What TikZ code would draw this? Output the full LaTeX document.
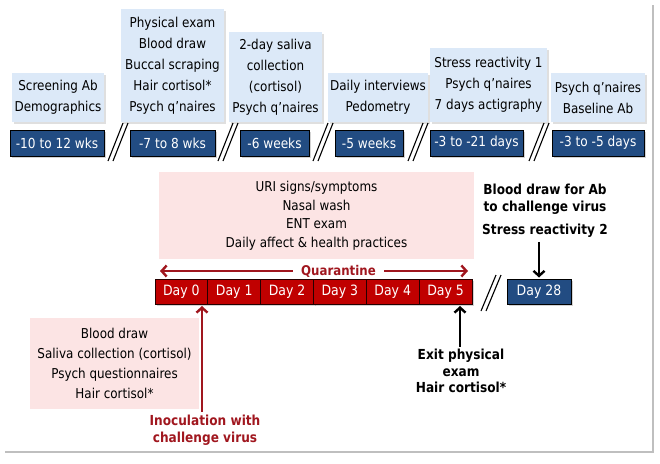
\documentclass[tikz,border=0pt]{standalone}
\usepackage{fontspec}
\setmainfont{DejaVu Sans}[FakeStretch=0.88]
\usetikzlibrary{arrows.meta,shadows,calc}
\definecolor{lblue}{RGB}{220,233,248}
\definecolor{dblue}{RGB}{34,76,130}
\definecolor{dred}{RGB}{192,0,0}
\definecolor{qred}{RGB}{160,22,30}
\definecolor{lpink}{RGB}{252,228,228}
\tikzset{
  tbox/.style={rectangle, fill=lblue, inner sep=0pt, align=center,
    font=\fontsize{13.6}{21}\selectfont,
    drop shadow={shadow xshift=2pt, shadow yshift=-2pt, opacity=0.25}},
  bbox/.style={rectangle, fill=dblue, draw=black, line width=1pt, text=white,
    inner sep=0pt, minimum height=26pt, font=\fontsize{13.8}{15}\selectfont,
    drop shadow={shadow xshift=2pt, shadow yshift=-2pt, opacity=0.35}},
  daybox/.style={rectangle, fill=dred, draw=black!85!red, line width=0.8pt, text=white,
    inner sep=0pt, minimum width=52.83pt, minimum height=25pt, font=\fontsize{14.2}{15}\selectfont,
    drop shadow={shadow xshift=2pt, shadow yshift=-2pt, opacity=0.35}},
  pbox/.style={rectangle, fill=lpink, inner sep=0pt, align=center},
  btext/.style={align=center, inner sep=0pt, font=\bfseries\fontsize{13.8}{16.5}\selectfont},
  slashline/.style={line width=1.1pt, black},
  redarrow/.style={draw=qred, line width=2.4pt, -{Straight Barb[length=5pt,width=11pt]}},
  blackarrow/.style={draw=black, line width=2.4pt, -{Straight Barb[length=5pt,width=11pt]}}
}
\newcommand\dslashmark[3]{%
  \draw[slashline] (#1-10,#2) -- (#1+5,#3);
  \draw[slashline] (#1-5,#2) -- (#1+10,#3);}
\begin{document}
\begin{tikzpicture}[x=1pt,y=-1pt]
\useasboundingbox (0,0) rectangle (660,463);
% page frame shadow
\draw[black!25, line width=1.6pt] (5,452) -- (653,452) -- (653,5);

% top info boxes
\node[tbox, minimum width=92pt, minimum height=49pt] (s1) at (58,97.5) {Screening Ab\\Demographics};
\node[tbox, minimum width=103pt, minimum height=113pt] (s2) at (172.5,65.5) {Physical exam\\Blood draw\\Buccal scraping\\Hair cortisol*\\Psych q'naires};
\node[tbox, minimum width=93pt, minimum height=90pt] (s3) at (275.5,77) {2-day saliva\\collection\\(cortisol)\\Psych q'naires};
\node[tbox, minimum width=100pt, minimum height=49pt] (s4) at (378,97.5) {Daily interviews\\Pedometry};
\node[tbox, minimum width=117pt, minimum height=74pt] (s5) at (488.5,85) {Stress reactivity 1\\Psych q'naires\\7 days actigraphy};
\node[tbox, minimum width=94pt, minimum height=49pt] (s6) at (598,97.5) {Psych q'naires\\Baseline Ab};

% time boxes
\node[bbox, minimum width=94pt] (b1) at (57,143) {-10 to 12 wks};
\node[bbox, minimum width=85pt] (b2) at (172.5,143) {-7 to 8 wks};
\node[bbox, minimum width=69pt] (b3) at (274.5,143) {-6 weeks};
\node[bbox, minimum width=68pt] (b4) at (369,143) {-5 weeks};
\node[bbox, minimum width=93pt] (b5) at (476.5,143) {-3 to -21 days};
\node[bbox, minimum width=92pt] (b6) at (598,143) {-3 to -5 days};

\dslashmark{118}{161}{123}
\dslashmark{228}{161}{123}
\dslashmark{323}{161}{123}
\dslashmark{418}{161}{123}
\dslashmark{539}{161}{123}

% quarantine activities
\node[pbox, minimum width=315pt, minimum height=87pt, font=\fontsize{13.6}{18.5}\selectfont] (p1) at (316.5,215.5)
  {URI signs/symptoms\\Nasal wash\\ENT exam\\Daily affect \& health practices};

% quarantine arrow
\node[text=qred, font=\bfseries\fontsize{13.4}{15}\selectfont, inner xsep=8pt, inner ysep=0pt] (q) at (338.5,271) {Quarantine};
\coordinate (qL) at (160,271);
\coordinate (qR) at (468,271);
\draw[redarrow] (q.west) -- (qL);
\draw[redarrow] (q.east) -- (qR);

% day boxes
\node[daybox] (d0) at (181.4,291.5) {Day 0};
\node[daybox] (d1) at (234.25,291.5) {Day 1};
\node[daybox] (d2) at (287.1,291.5) {Day 2};
\node[daybox] (d3) at (339.9,291.5) {Day 3};
\node[daybox] (d4) at (392.75,291.5) {Day 4};
\node[daybox] (d5) at (445.6,291.5) {Day 5};

\dslashmark{491}{311}{275}
\node[bbox, minimum width=64pt, minimum height=25pt, font=\fontsize{14.2}{15}\selectfont] (d28) at (539,291.5) {Day 28};

% day 28 annotations
\node[btext] (bd) at (545,199) {Blood draw for Ab\\to challenge virus};
\node[btext] (sr) at (545,231) {Stress reactivity 2};
\draw[blackarrow] ($(d28.north |- sr.south)+(0,4)$) -- ($(d28.north)+(0,-1)$);

% day 0 activities
\node[pbox, minimum width=169pt, minimum height=91pt, font=\fontsize{13.6}{20}\selectfont] (p2) at (114.5,363.5)
  {Blood draw\\Saliva collection (cortisol)\\Psych questionnaires\\Hair cortisol*};

% inoculation
\node[btext, text=qred] (inoc) at (205,430) {Inoculation with\\challenge virus};
\coordinate (ia) at (202,306);
\draw[redarrow] ($(ia |- inoc.north)+(0,-3)$) -- (ia);

% exit
\node[btext] (exit) at (461,371) {Exit physical\\exam\\Hair cortisol*};
\coordinate (ea) at (460,306);
\draw[blackarrow] ($(ea |- exit.north)+(0,-2)$) -- (ea);
\end{tikzpicture}
\end{document}
